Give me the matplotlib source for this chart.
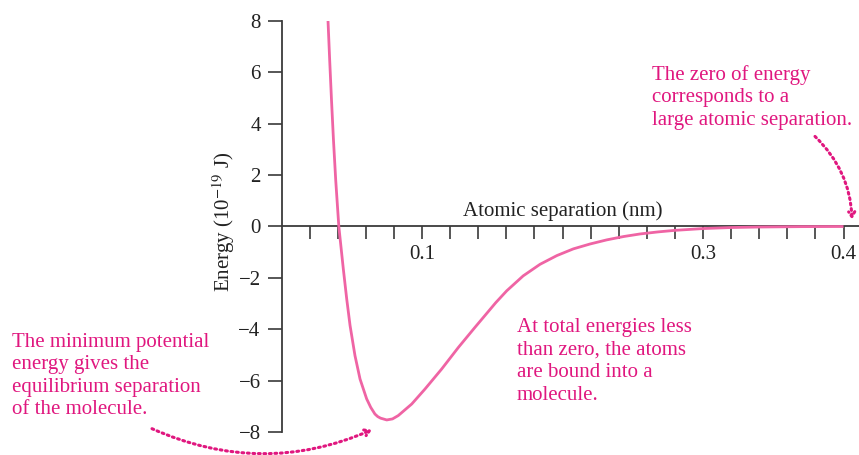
import matplotlib
matplotlib.use("Agg")
import matplotlib.pyplot as plt

# ---- data ----
sep_nm = [0.0331, 0.0343, 0.0356, 0.0370, 0.0386, 0.0408, 0.0440, 0.0464, 0.0488,
          0.0523, 0.0559, 0.0606, 0.0635, 0.0665, 0.0685, 0.0705, 0.0749, 0.0790,
          0.0831, 0.0927, 0.1021, 0.1140, 0.1259, 0.1377, 0.1448, 0.1525, 0.1603,
          0.1720, 0.1840, 0.1960, 0.2077, 0.2196, 0.2315, 0.2435, 0.2552, 0.2680,
          0.2800, 0.3000, 0.3200, 0.3400, 0.3700, 0.4000]
energy = [8.0, 6.46, 4.90, 3.35, 1.79, 0.0, -1.65, -2.81, -3.85,
          -5.02, -5.93, -6.70, -7.03, -7.29, -7.39, -7.45, -7.52, -7.48,
          -7.35, -6.90, -6.32, -5.54, -4.70, -3.92, -3.46, -2.96, -2.50,
          -1.92, -1.47, -1.13, -0.87, -0.68, -0.52, -0.39, -0.29, -0.21,
          -0.15, -0.08, -0.04, -0.02, -0.005, 0.0]

x_ticks = [0.02, 0.04, 0.06, 0.08, 0.10, 0.12, 0.14, 0.16, 0.18, 0.20,
           0.22, 0.24, 0.26, 0.28, 0.30, 0.32, 0.34, 0.36, 0.38, 0.40]
x_tick_labels = ["", "", "", "", "0.1", "", "", "", "", "",
                 "", "", "", "", "0.3", "", "", "", "", "0.4"]
y_ticks = [-8, -6, -4, -2, 0, 2, 4, 6, 8]

x_label = "Atomic separation (nm)"
y_label = r"Energy (10$^{-19}$ J)"
note_min = "The minimum potential\nenergy gives the\nequilibrium separation\nof the molecule."
note_bound = "At total energies less\nthan zero, the atoms\nare bound into a\nmolecule."
note_zero = "The zero of energy\ncorresponds to a\nlarge atomic separation."

# ---- style ----
plt.rcParams['font.family'] = ['Liberation Serif', 'DejaVu Serif']
plt.rcParams['mathtext.fontset'] = 'stix'
curve_color = '#EF64A4'
note_color = '#E0177F'
axis_color = '#3a3a3a'
fs = 15

W, H = 859, 455
fig = plt.figure(figsize=(W / 100, H / 100), dpi=100)
x0_px, top_px, bot_px = 281.5, 20.7, 432.3
ax = fig.add_axes([x0_px / W, (H - bot_px) / H, 1 - x0_px / W, (bot_px - top_px) / H])
ax.set_xlim(0, (W - x0_px) / 1405.0)
ax.set_ylim(-8, 8)

ax.plot(sep_nm, energy, color=curve_color, lw=2.0, solid_joinstyle='round',
        solid_capstyle='butt', zorder=3)

for s in ['top', 'right']:
    ax.spines[s].set_visible(False)
ax.spines['bottom'].set_position(('data', 0))
for s in ['left', 'bottom']:
    ax.spines[s].set_color(axis_color)
    ax.spines[s].set_linewidth(1.3)

ax.set_xticks(x_ticks)
ax.set_xticklabels(x_tick_labels)
ax.set_yticks(y_ticks)
ax.tick_params(axis='x', direction='out', length=9, width=1.2, color=axis_color,
               labelsize=fs, pad=4, labelcolor='#222222')
ax.tick_params(axis='y', direction='out', length=10, width=1.2, color=axis_color,
               labelsize=fs, pad=5, labelcolor='#222222')

ax.text(0.2, 0.42, x_label, ha='center', va='baseline', fontsize=fs, color='#222222')
ax.set_ylabel(y_label, fontsize=fs, color='#222222')
ax.yaxis.set_label_coords(-0.077, 0.511)

# notes
fig.text(12 / W, 1 - 333 / H, note_min, ha='left', va='top', fontsize=fs,
         color=note_color, linespacing=1.25)
fig.text(517 / W, 1 - 318 / H, note_bound, ha='left', va='top', fontsize=fs,
         color=note_color, linespacing=1.25)
fig.text(652 / W, 1 - 65 / H, note_zero, ha='left', va='top', fontsize=fs,
         color=note_color, linespacing=1.25)

def px2data(px, py):
    return ((px - x0_px) / 1405.0, (226 - py) / 25.7)

arrow_kw = dict(arrowstyle='->,head_length=0.35,head_width=0.22', color=note_color,
                lw=2.2, linestyle=(0, (0.6, 1.2)), shrinkA=0, shrinkB=0)
ax.annotate('', xy=px2data(372, 429), xytext=px2data(152, 428), xycoords='data',
            annotation_clip=False,
            arrowprops=dict(connectionstyle='arc3,rad=0.22', **arrow_kw))
ax.annotate('', xy=px2data(852, 219), xytext=px2data(815, 136), xycoords='data',
            annotation_clip=False,
            arrowprops=dict(connectionstyle='arc3,rad=-0.2', **arrow_kw))

fig.savefig('out.png', dpi=100)
